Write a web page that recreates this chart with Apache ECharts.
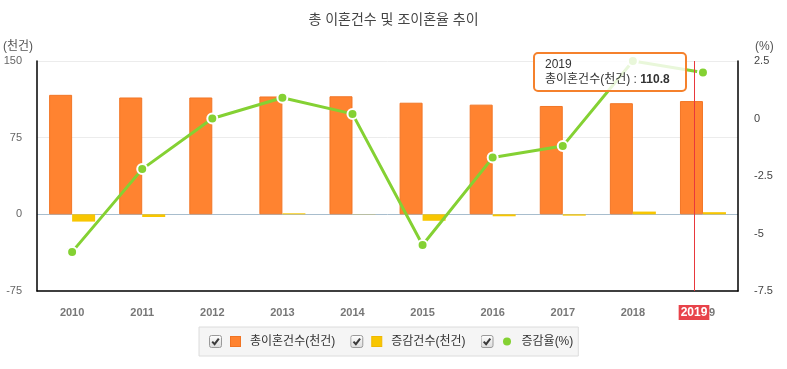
<!DOCTYPE html>
<html>
<head>
<meta charset="utf-8">
<script src="https://cdn.jsdelivr.net/npm/echarts@6/dist/echarts.min.js"></script>
<style>
html,body{margin:0;padding:0;background:#fff;}
#c{width:787px;height:369px;}
</style>
</head>
<body>
<div id="c"></div>
<script>
// ---- data ----
const years = ['2010','2011','2012','2013','2014','2015','2016','2017','2018','2019'];
const totalDivorces = [116.9, 114.3, 114.3, 115.3, 115.5, 109.2, 107.3, 106.0, 108.7, 110.8];
const changeCount = [-7.1, -2.6, 0.0, 1.0, 0.2, -6.3, -1.9, -1.3, 2.7, 2.1];
const changeRate = [-5.8, -2.2, 0.0, 0.9, 0.2, -5.5, -1.7, -1.2, 2.5, 2.0];
const seriesNames = ['총이혼건수(천건)', '증감건수(천건)', '증감율(%)'];
const leftAxisRange = [-75, 150];
const leftAxisStep = 75;
const rightAxisRange = [-7.5, 2.5];
const rightAxisStep = 2.5;
const titleText = '총 이혼건수 및 조이혼율 추이';
const leftAxisName = '(천건)';
const rightAxisName = '(%)';

// ---- style ----
const FONT = '"Liberation Sans", Arial, "Noto Sans CJK KR", sans-serif';
const ORANGE = '#ff8330';
const YELLOW = '#f8c600';
const GREEN = '#84d133';

function legendIcon(swatch) {
  const svg = "<svg xmlns='http://www.w3.org/2000/svg' width='36' height='13' viewBox='0 0 36 13'>" +
    "<defs><linearGradient id='g' x1='0' y1='0' x2='0' y2='1'><stop offset='0' stop-color='#fdfdfd'/><stop offset='1' stop-color='#dcdcdc'/></linearGradient></defs>" +
    "<rect x='0.5' y='0.5' width='12' height='12' rx='2' fill='url(#g)' stroke='#9a9a9a'/>" +
    "<path d='M3.2 6.6 L5.6 9.2 L9.8 3.6' fill='none' stroke='#3a3a3a' stroke-width='2'/>" +
    swatch + "</svg>";
  return 'image://data:image/svg+xml;charset=utf-8,' + encodeURIComponent(svg);
}
const icons = [
  legendIcon("<rect x='21.5' y='1.5' width='10' height='10' fill='" + ORANGE + "' stroke='#f07424'/>"),
  legendIcon("<rect x='21.5' y='1.5' width='10' height='10' fill='" + YELLOW + "' stroke='#f0b800'/>"),
  legendIcon("<circle cx='26.5' cy='6.5' r='4' fill='" + GREEN + "'/>")
];

const chart = echarts.init(document.getElementById('c'), null, {renderer: 'canvas'});
const option = {
  animation: false,
  textStyle: {fontFamily: FONT},
  title: {
    text: titleText,
    left: 'center',
    top: 8,
    textStyle: {fontSize: 14, fontWeight: 'normal', color: '#444', fontFamily: FONT}
  },
  legend: {
    left: 199,
    top: 327,
    padding: [8, 5, 8, 10],
    itemGap: 15,
    itemWidth: 36,
    itemHeight: 13,
    backgroundColor: '#f5f5f5',
    borderColor: '#dcdcdc',
    borderWidth: 1,
    selectedMode: false,
    textStyle: {fontSize: 12, color: '#333', fontFamily: FONT},
    data: seriesNames.map((n, i) => ({name: n, icon: icons[i]}))
  },
  tooltip: {
    trigger: 'item',
    triggerOn: 'none',
    alwaysShowContent: true,
    position: [533, 52],
    backgroundColor: 'rgba(255,255,255,0.82)',
    borderColor: '#f5812c',
    borderWidth: 2,
    borderRadius: 5,
    padding: [3, 15, 3, 10],
    extraCssText: 'box-shadow:none;line-height:15px;',
    textStyle: {fontSize: 12, color: '#333', fontFamily: FONT},
    formatter: function (p) {
      return '<div>' + p.name + '</div><div>' + p.seriesName + ' : <b>' + p.value + '</b></div>';
    }
  },
  grid: {left: 37, right: 49, top: 61, bottom: 78, containLabel: false},
  xAxis: [
    {
      type: 'category',
      data: years,
      boundaryGap: true,
      axisLine: {show: true, onZero: false, lineStyle: {color: '#000', width: 1.5}},
      axisTick: {show: false},
      axisLabel: {margin: 16, fontSize: 11, color: '#777', fontWeight: 'bold', fontFamily: FONT},
      splitLine: {show: false},
      axisPointer: {show: false}
    },
    {
      // invisible helper axis spanning the same categories, used only for the free hover pointer
      type: 'value',
      min: 0,
      max: years.length,
      position: 'bottom',
      axisLine: {show: false, onZero: false},
      axisTick: {show: false},
      axisLabel: {show: false},
      splitLine: {show: false},
      axisPointer: {
        show: true,
        snap: false,
        triggerTooltip: false,
        type: 'line',
        lineStyle: {color: '#e8383d', width: 1, type: 'solid'},
        label: {
          show: true,
          margin: 14,
          backgroundColor: '#e8434a',
          color: '#fff',
          fontWeight: 'bold',
          fontSize: 12,
          fontFamily: FONT,
          padding: [2, 2, 1, 2],
          borderRadius: 0,
          formatter: function (p) {
            const i = Math.min(years.length - 1, Math.max(0, Math.floor(p.value)));
            return years[i];
          }
        }
      }
    }
  ],
  yAxis: [
    {
      type: 'value',
      min: leftAxisRange[0],
      max: leftAxisRange[1],
      interval: leftAxisStep,
      name: leftAxisName,
      nameLocation: 'end',
      nameGap: 8,
      nameTextStyle: {color: '#555', fontSize: 12, align: 'right', verticalAlign: 'bottom', padding: [0, 4, 0, 0], fontFamily: FONT},
      axisLine: {show: true, lineStyle: {color: '#000', width: 1.5}},
      axisTick: {show: false},
      axisLabel: {margin: 15, fontSize: 11, color: '#666', fontFamily: FONT},
      splitLine: {show: true, lineStyle: {color: ['rgba(0,0,0,0)', '#a8bdcd', '#ececec', '#ececec'], width: 1}}
    },
    {
      type: 'value',
      min: rightAxisRange[0],
      max: rightAxisRange[1],
      interval: rightAxisStep,
      name: rightAxisName,
      nameLocation: 'end',
      nameGap: 8,
      nameTextStyle: {color: '#555', fontSize: 12, align: 'left', verticalAlign: 'bottom', padding: [0, 0, 0, 17], fontFamily: FONT},
      axisLine: {show: true, lineStyle: {color: '#000', width: 1.5}},
      axisTick: {show: false},
      axisLabel: {margin: 16, fontSize: 11, color: '#444', fontFamily: FONT},
      splitLine: {show: false}
    }
  ],
  series: [
    {
      name: seriesNames[0],
      type: 'bar',
      xAxisIndex: 0,
      yAxisIndex: 0,
      data: totalDivorces,
      barWidth: 23,
      barGap: '0%',
      itemStyle: {color: ORANGE, borderColor: '#f27626', borderWidth: 1},
      emphasis: {disabled: true},
      z: 2
    },
    {
      name: seriesNames[1],
      type: 'bar',
      xAxisIndex: 0,
      yAxisIndex: 0,
      data: changeCount,
      barWidth: 23,
      barGap: '0%',
      itemStyle: {color: YELLOW},
      emphasis: {disabled: true},
      z: 2
    },
    {
      name: seriesNames[2],
      type: 'line',
      xAxisIndex: 0,
      yAxisIndex: 1,
      data: changeRate,
      symbol: 'circle',
      symbolSize: 10,
      showAllSymbol: true,
      lineStyle: {color: GREEN, width: 3},
      itemStyle: {color: GREEN, borderColor: '#fff', borderWidth: 2},
      emphasis: {disabled: true},
      z: 5
    }
  ]
};
chart.setOption(option);
chart.dispatchAction({type: 'showTip', x: 694, y: 160});
</script>
</body>
</html>
